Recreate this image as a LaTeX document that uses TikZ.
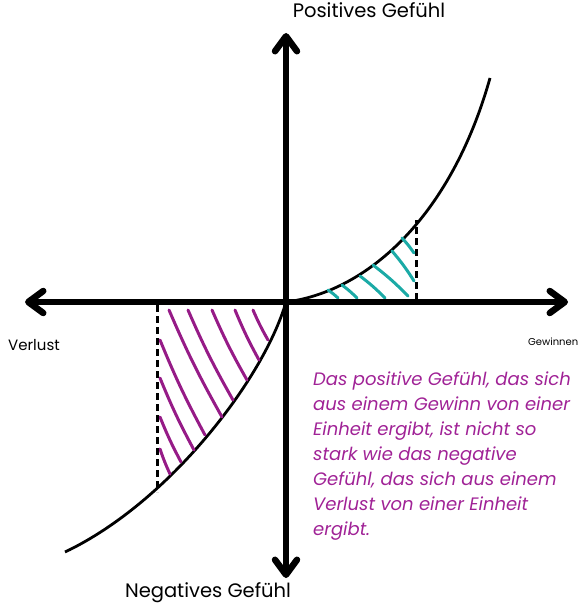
\documentclass[tikz,border=0pt]{standalone}
\usepackage{fontspec}
\setmainfont{Poppins}
\usetikzlibrary{arrows.meta}
\definecolor{lossviolet}{RGB}{150,27,135}
\definecolor{gainteal}{RGB}{27,170,166}
\definecolor{noteviolet}{RGB}{160,34,150}
\begin{document}
\begin{tikzpicture}[x=1pt,y=-1pt,
  axis/.style={line width=6.5pt,{Straight Barb[length=15pt,width=22pt,round]}-{Straight Barb[length=15pt,width=22pt,round]}},
  value/.style={line width=2.8pt},
  guide/.style={line width=3pt,dash pattern=on 7pt off 4pt},
  losshatch/.style={lossviolet,line width=3pt,line cap=round},
  gainhatch/.style={gainteal,line width=3pt,line cap=round},
  lbl/.style={inner sep=0pt}]
\useasboundingbox (0,0) rectangle (586,604);
% points
\coordinate (O) at (286,302);
\coordinate (W) at (25,302);
\coordinate (E) at (568,302);
\coordinate (N) at (286,33);
\coordinate (S) at (286,578);
\coordinate (lossend) at (65,552);
\coordinate (gainend) at (490,78);

% value curve
\draw [value] (lossend) .. controls (170,502) and (264,378) .. (O)
  .. controls (365,292) and (450,220) .. (gainend);

% hatching
\draw [losshatch] (169,310) to[bend right=3] (222,417);
\draw [losshatch] (188,310) to[bend right=3] (233,400);
\draw [losshatch] (212,310) to[bend right=3] (247,380);
\draw [losshatch] (235,310) to[bend right=3] (259,360);
\draw [losshatch] (253,310) to[bend right=3] (268,340);
\draw [losshatch] (160,340) to[bend right=3] (205,435);
\draw [losshatch] (160,378) to[bend right=3] (194,450);
\draw [losshatch] (160,417) to[bend right=3] (181,462);
\draw [losshatch] (160,449) to[bend right=3] (170,474);

\draw [gainhatch] (328,290) to[bend left=4] (338,298);
\draw [gainhatch] (342,285) to[bend left=4] (357,298);
\draw [gainhatch] (360,276) to[bend left=4] (385,298);
\draw [gainhatch] (373,265) to[bend left=4] (408,296);
\draw [gainhatch] (392,251) to[bend left=4] (414,281);
\draw [gainhatch] (402,238) to[bend left=4] (414,253);

% dashed guides
\draw [guide] (157,305) -- (157,492);
\draw [guide] (416,300) -- (416,220);

% axes
\draw [axis] (W) -- (E);
\draw [axis] (S) -- (N);

% labels
\node [lbl,anchor=base] (pos) at (369,18) {\fontsize{19.5}{22}\selectfont Positives Gefühl};
\node [lbl,anchor=base] (neg) at (208,597) {\fontsize{19.5}{22}\selectfont Negatives Gefühl};
\node [lbl,anchor=base west] (loss) at (8,350) {\fontsize{15}{17}\selectfont Verlust};
\node [lbl,anchor=base west] (gain) at (528,345) {\fontsize{10}{12}\selectfont Gewinnen};
\node [lbl,anchor=north west,align=left,text=noteviolet,
  font=\itshape\fontsize{18}{25}\selectfont] (note) at (313,372)
  {Das positive Gefühl, das sich\\aus einem Gewinn von einer\\Einheit ergibt, ist nicht so\\stark wie das negative\\Gefühl, das sich aus einem\\Verlust von einer Einheit\\ergibt.};

\end{tikzpicture}
\end{document}
